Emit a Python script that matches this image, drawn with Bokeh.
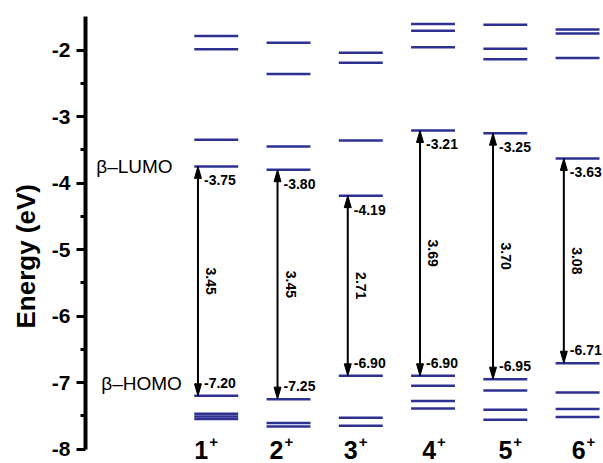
import math
from bokeh.plotting import figure
from bokeh.models import FixedTicker, Title
from bokeh.core.properties import value
from bokeh.embed import file_html
from bokeh.resources import INLINE

# ---------------- data ----------------
cations = ["1", "2", "3", "4", "5", "6"]
charge = "+"
lumo = [-3.75, -3.80, -4.19, -3.21, -3.25, -3.63]
homo = [-7.20, -7.25, -6.90, -6.90, -6.95, -6.71]
gap = [3.45, 3.45, 2.71, 3.69, 3.70, 3.08]
upper_levels = [
    [-1.79, -1.99, -3.35],
    [-1.89, -2.36, -3.45],
    [-2.04, -2.19, -3.36],
    [-1.61, -1.71, -1.96],
    [-1.62, -1.98, -2.14],
    [-1.69, -1.75, -2.12],
]
lower_levels = [
    [-7.47, -7.51, -7.55],
    [-7.61, -7.66],
    [-7.53, -7.65],
    [-7.05, -7.28, -7.39],
    [-7.12, -7.41, -7.56],
    [-7.15, -7.40, -7.52],
]
y_ticks = [-8, -7, -6, -5, -4, -3, -2]
y_minor = [-7.5, -6.5, -5.5, -4.5, -3.5, -2.5]
y_title = "Energy (eV)"
lumo_name = "\u03b2\u2013LUMO"
homo_name = "\u03b2\u2013HOMO"

# ---------------- layout ----------------
PX_X = 72.4    # px per x unit
PX_Y = 66.5    # px per y unit
X0, X1 = -0.8094, 6.359
half_w = 22 / PX_X
arrow_dx = [-0.253, -0.152, -0.18, -0.18, -0.17, -0.19]
label_dx = [-8, -5, -3, 3, 7, 8]
head_len = 12 / PX_Y
head_hw = 3.5 / PX_X
LEVEL_COLOR = "#2E3192"
FONT = "Liberation Sans"

p = figure(width=603, height=463, x_range=(X0, X1), y_range=(-8.218, -1.2556),
           output_backend="svg", toolbar_location=None, x_axis_location=None,
           min_border_left=84, min_border_right=0, min_border_top=0, min_border_bottom=0)
p.outline_line_color = None
p.grid.visible = False
p.background_fill_color = "white"
p.border_fill_color = "white"

ax = p.yaxis[0]
ax.ticker = FixedTicker(ticks=y_ticks, minor_ticks=y_minor)
ax.major_label_overrides = {t: f"{t}" for t in y_ticks}
ax.bounds = (-8, -1.5)
ax.axis_line_width = 4
ax.axis_line_color = "black"
ax.major_tick_line_width = 3
ax.minor_tick_line_width = 3
ax.major_tick_out = 9
ax.major_tick_in = 0
ax.minor_tick_out = 5
ax.minor_tick_in = 0
ax.major_label_text_font = FONT
ax.major_label_text_font_style = "bold"
ax.major_label_text_font_size = "21px"
ax.major_label_text_color = "black"
ax.major_label_standoff = 6

# y-axis title (placed lower than the frame centre, as in the reference)
p.add_layout(Title(text=y_title, align="left", offset=135, standoff=16,
                   text_font=FONT, text_font_style="bold", text_font_size="26px",
                   text_color="black"), "left")

cols = [i + 1 for i in range(len(cations))]

# energy levels
lx0, lx1, ly = [], [], []
for c, ups, lu, ho, lows in zip(cols, upper_levels, lumo, homo, lower_levels):
    for e in ups + [lu, ho] + lows:
        lx0.append(c - half_w)
        lx1.append(c + half_w)
        ly.append(e)
p.segment(x0=lx0, y0=ly, x1=lx1, y1=ly, line_color=LEVEL_COLOR, line_width=2.5)

# arrows
axs = [c + d for c, d in zip(cols, arrow_dx)]
p.segment(x0=axs, y0=[l - head_len * 0.5 for l in lumo], x1=axs,
          y1=[h + head_len * 0.5 for h in homo], line_color="black", line_width=2)
hxs, hys = [], []
for a, lu, ho in zip(axs, lumo, homo):
    hxs.append([a, a - head_hw, a + head_hw])
    hys.append([lu, lu - head_len, lu - head_len])
    hxs.append([a, a - head_hw, a + head_hw])
    hys.append([ho, ho + head_len, ho + head_len])
p.patches(xs=hxs, ys=hys, fill_color="black", line_color="black", line_width=1)

# value labels
p.text(x=axs, y=lumo, text=[f"{v:.2f}" for v in lumo], x_offset=6, y_offset=14,
       text_font=value(FONT), text_font_style="bold", text_font_size="14px",
       text_align="left", text_baseline="middle", text_color="black")
p.text(x=axs, y=homo, text=[f"{v:.2f}" for v in homo], x_offset=6, y_offset=-13,
       text_font=value(FONT), text_font_style="bold", text_font_size="14px",
       text_align="left", text_baseline="middle", text_color="black")

# gap labels
mids = [(lu + ho) / 2 for lu, ho in zip(lumo, homo)]
p.text(x=axs, y=mids, text=[f"{g:.2f}" for g in gap], x_offset=13, angle=-math.pi / 2,
       text_font=value(FONT), text_font_style="bold", text_font_size="14px",
       text_align="center", text_baseline="middle", text_color="black")

# beta-LUMO / beta-HOMO
p.text(x=[cols[0]], y=[lumo[0]], text=[lumo_name], x_offset=-120, y_offset=0,
       text_font=value(FONT), text_font_size="19px", text_align="left",
       text_baseline="middle", text_color="black")
p.text(x=[cols[0]], y=[homo[0]], text=[homo_name], x_offset=-115, y_offset=-12,
       text_font=value(FONT), text_font_size="19px", text_align="left",
       text_baseline="middle", text_color="black")

# category labels
base_y = [y_ticks[0]] * len(cols)
p.text(x=cols, y=base_y, text=cations, x_offset=label_dx, y_offset=1,
       text_font=value(FONT), text_font_style="bold", text_font_size="25px",
       text_align="right", text_baseline="middle", text_color="black")
p.text(x=cols, y=base_y, text=[charge] * len(cols), x_offset=[d + 1 for d in label_dx],
       y_offset=-7, text_font=value(FONT), text_font_style="bold", text_font_size="15px",
       text_align="left", text_baseline="middle", text_color="black")

open("out.html", "w").write(file_html(p, INLINE))
